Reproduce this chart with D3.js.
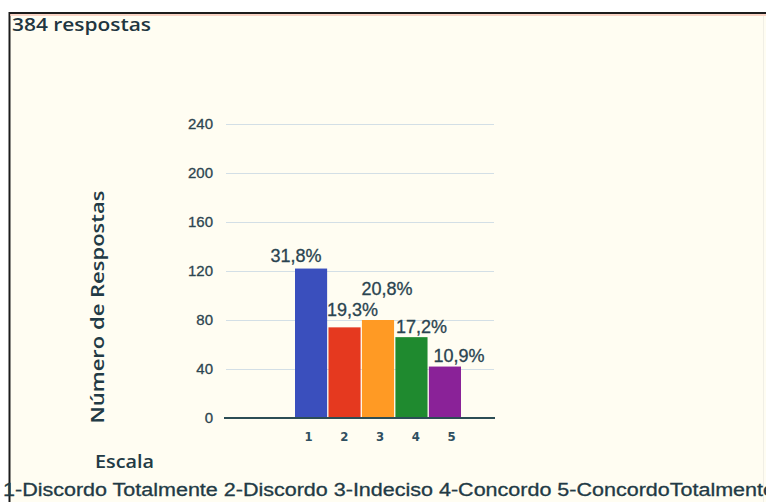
<!DOCTYPE html>
<html>
<head>
<meta charset="utf-8">
<script src="https://cdn.jsdelivr.net/npm/d3@7/dist/d3.min.js"></script>
<style>
  html, body { margin: 0; padding: 0; background: #ffffff; }
  svg { display: block; }
</style>
</head>
<body>
<svg id="chart" width="766" height="502"></svg>
<script>
// Survey answers on a 1–5 agreement scale (384 responses)
const categories = ["1", "2", "3", "4", "5"];
const counts = [122, 74, 80, 66, 42];
const percentLabels = ["31,8%", "19,3%", "20,8%", "17,2%", "10,9%"];
const yTicks = [0, 40, 80, 120, 160, 200, 240];
const barColors = ["#3a4fbd", "#e5391f", "#ff9a24", "#1f8a2f", "#8a2298"];
const titleText = "384 respostas";
const yAxisTitle = "Número de Respostas";
const xAxisTitle = "Escala";
const scaleLegend = "1-Discordo Totalmente 2-Discordo 3-Indeciso 4-Concordo 5-ConcordoTotalmente";

const svg = d3.select("#chart");
const textColor = "#223a45";

// Panel background with a dark frame on the top and left
svg.append("rect").attr("x", 9).attr("y", 12).attr("width", 757).attr("height", 490)
  .attr("fill", "#fffdf2");
svg.append("line").attr("x1", 9).attr("x2", 766).attr("y1", 13).attr("y2", 13)
  .attr("stroke", "#1c1c1c").attr("stroke-width", 2);
svg.append("line").attr("x1", 9.5).attr("x2", 9.5).attr("y1", 12).attr("y2", 502)
  .attr("stroke", "#1c1c1c").attr("stroke-width", 2);
svg.append("line").attr("x1", 10).attr("x2", 766).attr("y1", 15).attr("y2", 15)
  .attr("stroke", "#f7c4b4").attr("stroke-width", 1.5);
svg.append("line").attr("x1", 763.5).attr("x2", 763.5).attr("y1", 16).attr("y2", 502)
  .attr("stroke", "#f1efe6").attr("stroke-width", 1);

svg.append("text").attr("x", 12).attr("y", 31)
  .attr("font-family", "'Open Sans', 'Noto Sans', sans-serif").attr("font-size", 18)
  .attr("font-weight", 600).attr("textLength", 139).attr("lengthAdjust", "spacingAndGlyphs")
  .attr("fill", "#1f3640").text(titleText);

// Scales
const y = d3.scaleLinear().domain([0, 240]).range([418, 124]);
const x = d3.scaleBand().domain(categories).range([295, 461]).paddingInner(0.04);
const xLabels = d3.scalePoint().domain(categories).range([308, 451]);

// Horizontal gridlines with value labels
const yAxis = d3.axisLeft(y).tickValues(yTicks).tickSize(-268).tickPadding(12);
const gy = svg.append("g").attr("transform", "translate(226,0)").call(yAxis);
gy.select(".domain").remove();
gy.selectAll(".tick line").attr("stroke", "#d3dfe6").attr("stroke-width", 1.2)
  .filter(d => d === 0).remove();
gy.selectAll(".tick text")
  .attr("font-family", "'Liberation Sans', Arial, sans-serif").attr("font-size", 15)
  .attr("fill", "#2d4550").attr("stroke", "#2d4550").attr("stroke-width", 0.3)
  .attr("x", -13);

// Bars
svg.append("g").selectAll("rect").data(counts).join("rect")
  .attr("x", (d, i) => x(categories[i]))
  .attr("y", d => y(d))
  .attr("width", x.bandwidth())
  .attr("height", d => y(0) - y(d))
  .attr("fill", (d, i) => barColors[i]);

// Baseline
svg.append("line").attr("x1", 224).attr("x2", 495).attr("y1", y(0)).attr("y2", y(0))
  .attr("stroke", "#2c4d55").attr("stroke-width", 2);

// Percentage labels, nudged so neighbouring labels don't collide
const labelNudge = [[-15, -7], [8, -11], [9, -25], [10, -4], [14, -5]];
svg.append("g").selectAll("text").data(counts).join("text")
  .attr("x", (d, i) => x(categories[i]) + x.bandwidth() / 2 + labelNudge[i][0])
  .attr("y", (d, i) => y(d) + labelNudge[i][1])
  .attr("text-anchor", "middle")
  .attr("font-family", "'Liberation Sans', Arial, sans-serif").attr("font-size", 18)
  .attr("fill", "#2a4450").attr("stroke", "#2a4450").attr("stroke-width", 0.3)
  .text((d, i) => percentLabels[i]);

// Category labels along the bottom
const xAxis = d3.axisBottom(xLabels).tickSize(0).tickPadding(0);
const gx = svg.append("g").attr("transform", "translate(0,432)").call(xAxis);
gx.select(".domain").remove();
gx.selectAll(".tick text")
  .attr("font-family", "'DejaVu Sans Condensed', 'DejaVu Sans', sans-serif")
  .attr("font-size", 13).attr("font-weight", "bold").attr("fill", "#2f4f60");

// Axis titles
svg.append("text")
  .attr("transform", "translate(104,307) rotate(-90)")
  .attr("text-anchor", "middle")
  .attr("font-family", "'Open Sans', 'Noto Sans', sans-serif").attr("font-size", 18.5)
  .attr("font-weight", 600).attr("textLength", 233).attr("lengthAdjust", "spacingAndGlyphs")
  .attr("fill", textColor).text(yAxisTitle);

svg.append("text").attr("x", 95).attr("y", 468)
  .attr("font-family", "'Open Sans', 'Noto Sans', sans-serif").attr("font-size", 17.5)
  .attr("font-weight", 600).attr("textLength", 59).attr("lengthAdjust", "spacingAndGlyphs")
  .attr("fill", textColor).text(xAxisTitle);

svg.append("text").attr("x", 3).attr("y", 496)
  .attr("font-family", "'Liberation Sans', Arial, sans-serif").attr("font-size", 18)
  .attr("stroke", textColor).attr("stroke-width", 0.3)
  .attr("textLength", 772).attr("lengthAdjust", "spacingAndGlyphs")
  .attr("fill", textColor).text(scaleLegend);
</script>
</body>
</html>
